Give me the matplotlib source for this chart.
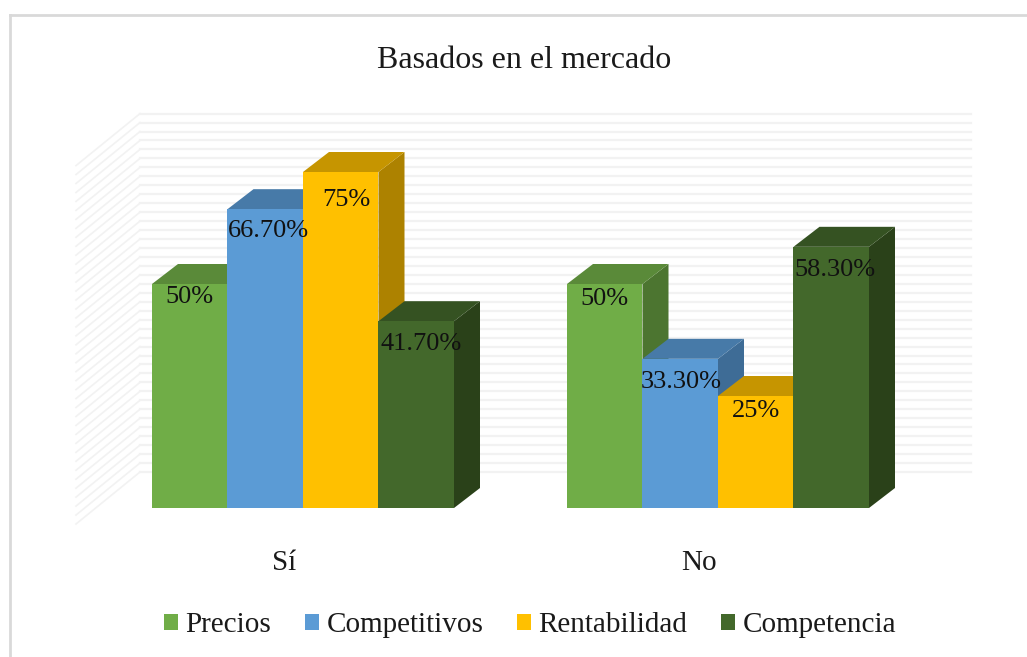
import numpy as np
import matplotlib
matplotlib.use("Agg")
import matplotlib.pyplot as plt
from matplotlib.patches import Patch, Polygon

plt.rcParams["font.family"] = "Liberation Serif"

W, H = 1027, 657
categories = ["Sí", "No"]
series = ["Precios", "Competitivos", "Rentabilidad", "Competencia"]
precios = [50, 50]
competitivos = [66.7, 33.3]
rentabilidad = [75, 25]
competencia = [41.7, 58.3]
labels_precios = ["50%", "50%"]
labels_competitivos = ["66.70%", "33.30%"]
labels_rentabilidad = ["75%", "25%"]
labels_competencia = ["41.70%", "58.30%"]

values = [precios, competitivos, rentabilidad, competencia]
labels = [labels_precios, labels_competitivos, labels_rentabilidad, labels_competencia]
front = ["#70ad47", "#5b9bd5", "#ffc000", "#43682b"]
top = ["#5a8a39", "#477aa8", "#c69500", "#355222"]
side = ["#4c7530", "#3e6c96", "#ad8200", "#2a4119"]

# label offsets from bar top centre, in pixels
label_dx = [[0, 0], [3, 1], [6, 0], [5, 4]]
label_dy = [[13, 15], [22, 23], [28, 15], [23, 23]]

fig = plt.figure(figsize=(W / 100, H / 100), dpi=100)
fig.patch.set_facecolor("white")

# axes box: baseline at y=508px, 80% at 149.6px
left, right, base, ymax_px = 76, 976, 508, 149.6
ax = fig.add_axes([left / W, 1 - base / H, (right - left) / W, (base - ymax_px) / H])
ppx = 415  # pixels between categories
ppv = 4.48  # pixels per percent
ax.set_xlim((left - 303) / ppx, (right - 303) / ppx)
ax.set_ylim(0, 80)
ax.patch.set_alpha(0)
for s in ax.spines.values():
    s.set_visible(False)
ax.set_yticks([])
x = np.arange(len(categories))
ax.set_xticks(x - 19 / ppx, categories, fontsize=21, color="#1a1a1a")
ax.tick_params(axis="x", length=0, pad=30)

# back wall and left wall gridlines
grid_c = "#f2f2f2"
bx0, bx1 = (140 - 303) / ppx, (971 - 303) / ppx
fx0 = (76 - 303) / ppx
for v in range(0, 81, 2):
    back = v + 36 / ppv
    fr = v - 16 / ppv
    ax.plot([bx0, bx1], [back, back], color=grid_c, lw=1.6, clip_on=False, zorder=1)
    ax.plot([fx0, bx0], [fr, back], color=grid_c, lw=1.2, clip_on=False, zorder=1)

# bars with fake 3d faces
w = 75.5 / ppx
dx, dy = 26 / ppx, 20 / ppv
for i in range(4):
    z = 2 + i
    xs = x + (i - 1.5) * w
    ax.bar(xs, values[i], width=w, color=front[i], edgecolor="none", linewidth=0,
           zorder=z + 0.5, clip_on=False)
    for xc, v in zip(xs, values[i]):
        l, r = xc - w / 2, xc + w / 2
        ax.add_patch(Polygon([(r, 0), (r + dx, dy), (r + dx, v + dy), (r, v)],
                             facecolor=side[i], edgecolor="none", zorder=z, clip_on=False))
        ax.add_patch(Polygon([(l, v), (l + dx, v + dy), (r + dx, v + dy), (r, v)],
                             facecolor=top[i], edgecolor="none", zorder=z, clip_on=False))
# labels on top of everything
for i in range(4):
    xs = x + (i - 1.5) * w
    for j, (xc, v) in enumerate(zip(xs, values[i])):
        ax.annotate(labels[i][j], (xc, v), xytext=(label_dx[i][j] * 0.72, -label_dy[i][j] * 0.72),
                    textcoords="offset points", ha="center", va="center", fontsize=19,
                    color="#111111", zorder=20, annotation_clip=False)

fig.text(524 / W, 1 - 60 / H, "Basados en el mercado", ha="center", va="center",
         fontsize=23, color="#1a1a1a")

handles = [Patch(facecolor=c, edgecolor="none") for c in front]
fig.legend(handles, series, loc="center", bbox_to_anchor=(530 / W, 1 - 625 / H), ncol=4,
           frameon=False, fontsize=21, handlelength=0.48, handleheight=0.48,
           handletextpad=0.26, columnspacing=1.15, labelcolor="#1a1a1a",
           borderpad=0, borderaxespad=0)

# chart border
border = "#d9d9d9"
fig.add_artist(plt.Line2D([9.5 / W, 9.5 / W], [0, 1 - 15 / H], color=border, lw=2))
fig.add_artist(plt.Line2D([9.5 / W, 1], [1 - 15 / H, 1 - 15 / H], color=border, lw=2))

fig.savefig("out.png", dpi=100)
